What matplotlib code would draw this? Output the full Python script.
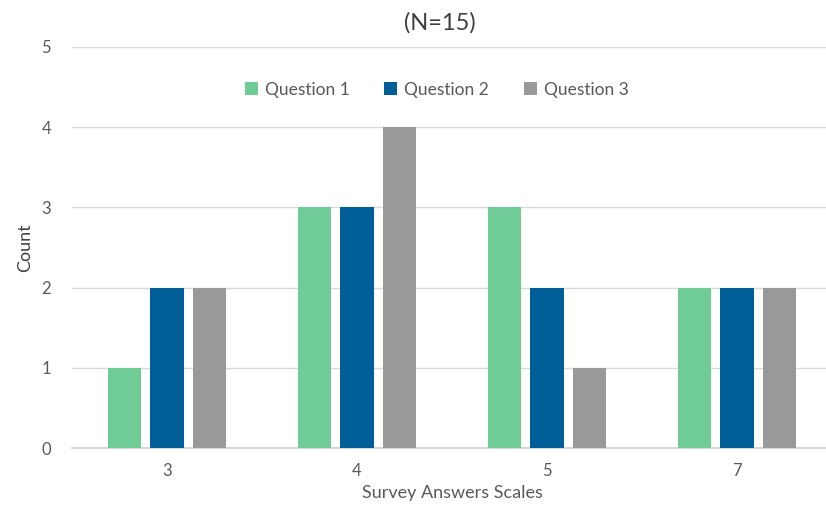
import numpy as np
import matplotlib.pyplot as plt

plt.rcParams['font.family'] = ['Lato', 'DejaVu Sans']

scales = ['3', '4', '5', '7']
q1 = [1, 3, 3, 2]
q2 = [2, 3, 2, 2]
q3 = [2, 4, 1, 2]
series = [('Question 1', q1, '#70CC96'),
          ('Question 2', q2, '#005E98'),
          ('Question 3', q3, '#999999')]

fig = plt.figure(figsize=(8.26, 5.08), dpi=100)
ax = fig.add_axes([0.0872, 0.1181, 0.920, 0.7894])

x = np.arange(len(scales))
width = 0.176
step = 0.224
for i, (name, vals, color) in enumerate(series):
    ax.bar(x + (i - 1) * step, vals, width, color=color, label=name, zorder=3)

ax.set_xlim(-0.5, len(scales) - 0.5)
ax.set_ylim(0, 5)
ax.set_yticks(range(6))
ax.set_xticks(x)
ax.set_xticklabels(scales)
ax.grid(axis='y', color='#D9D9D9', linewidth=1, zorder=0)
for s in ['top', 'right', 'left']:
    ax.spines[s].set_visible(False)
ax.spines['bottom'].set_color('#D0D0D0')
ax.spines['bottom'].set_linewidth(1.2)
ax.tick_params(axis='both', length=0, labelsize=12, labelcolor='#595959')
ax.tick_params(axis='y', pad=15)
ax.tick_params(axis='x', pad=11)

ax.set_xlabel('Survey Answers Scales', fontsize=13, color='#595959', labelpad=4)
ax.set_ylabel('Count', fontsize=13, color='#404040', labelpad=6)
fig.text(0.533, 0.955, '(N=15)', ha='center', va='center', fontsize=17, color='#404040')

leg = ax.legend(loc='center', bbox_to_anchor=(0.48, 0.893), ncol=3, frameon=False,
                fontsize=12.5, handlelength=0.75, handleheight=0.75, handletextpad=0.4,
                columnspacing=2.0)
for t in leg.get_texts():
    t.set_color('#595959')

fig.savefig('out.png', dpi=100)
